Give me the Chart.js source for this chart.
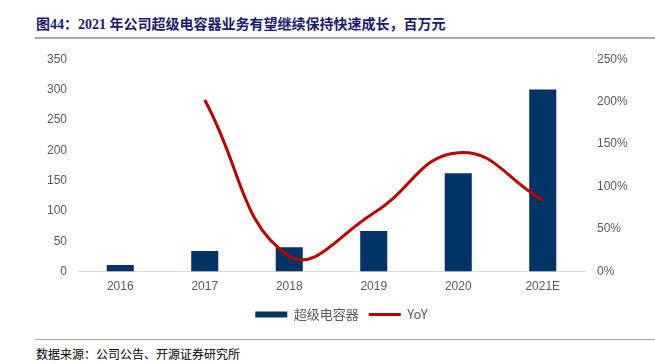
<!DOCTYPE html>
<html>
<head>
<meta charset="utf-8">
<script src="https://cdn.jsdelivr.net/npm/chart.js@4.4.0/dist/chart.umd.min.js"></script>
<style>
  html, body { margin: 0; padding: 0; background: #fff; }
  body { width: 655px; height: 364px; position: relative; overflow: hidden; }
  #title {
    position: absolute; left: 36px; top: 13px;
    font-family: "Liberation Serif", "Noto Sans CJK SC", serif;
    font-weight: bold; font-size: 14px; color: #1a1a70; white-space: nowrap;
  }
  #titleLine { position: absolute; left: 35px; top: 37px; width: 620px; height: 2px; background: #a6a6a6; }
  #wrap { position: absolute; left: 0; top: 40px; width: 655px; height: 295px; }
  #footLine { position: absolute; left: 35px; top: 339px; width: 620px; height: 1px; background: #a6a6a6; }
  #foot {
    position: absolute; left: 36px; top: 345px;
    font-family: "Noto Sans CJK SC", sans-serif; font-size: 12px; color: #000; white-space: nowrap;
  }
</style>
</head>
<body>
<div id="title">图44：2021 年公司超级电容器业务有望继续保持快速成长，百万元</div>
<div id="titleLine"></div>
<div id="wrap"><canvas id="chart"></canvas></div>
<div id="footLine"></div>
<div id="foot">数据来源：公司公告、开源证券研究所</div>
<script>
// data
const years = ["2016", "2017", "2018", "2019", "2020", "2021E"];
const revenue = [11, 34, 40, 67, 162, 300];           // 超级电容器, 百万元
const yoy = [null, 2.02, 0.18, 0.69, 1.40, 0.84];     // YoY
const leftTicks = [0, 50, 100, 150, 200, 250, 300, 350];
const rightTicks = [0, 0.5, 1, 1.5, 2, 2.5];

const navy = "#003366";
const red = "#c00000";
const tickFont = { family: "Liberation Sans, Arial, sans-serif", size: 12 };

// legend sits a bit right of centre and a little higher in the original
const legendShift = {
  id: "legendShift",
  afterLayout(chart) {
    const lg = chart.legend;
    lg.left += 14;
    lg.right += 14;
    lg.top -= 4;
    lg.bottom -= 4;
  }
};

new Chart(document.getElementById("chart").getContext("2d"), {
  type: "bar",
  data: {
    labels: years,
    datasets: [
      {
        label: "超级电容器",
        data: revenue,
        backgroundColor: navy,
        yAxisID: "y",
        barPercentage: 0.32,
        categoryPercentage: 1,
        order: 2
      },
      {
        type: "line",
        label: "YoY",
        data: yoy,
        borderColor: red,
        backgroundColor: red,
        borderWidth: 3,
        pointRadius: 0,
        tension: 0.45,
        yAxisID: "y1",
        order: 1
      }
    ]
  },
  plugins: [legendShift],
  options: {
    responsive: true,
    maintainAspectRatio: false,
    animation: false,
    layout: { padding: { left: 0, right: 0, top: 12, bottom: 0 } },
    plugins: {
      tooltip: { enabled: false },
      legend: {
        position: "bottom",
        labels: {
          boxWidth: 32,
          boxHeight: 6,
          usePointStyle: true,
          pointStyleWidth: 32,
          padding: 10,
          color: "#595959",
          font: { family: "Noto Sans CJK SC, sans-serif", size: 13 },
          generateLabels: () => [
            { text: "超级电容器", fillStyle: navy, strokeStyle: navy, lineWidth: 0, pointStyle: "rect", datasetIndex: 0, fontColor: "#595959" },
            { text: "YoY", fillStyle: red, strokeStyle: red, lineWidth: 3, pointStyle: "line", datasetIndex: 1, fontColor: "#595959" }
          ]
        }
      }
    },
    scales: {
      x: {
        grid: { display: false, drawTicks: false },
        border: { display: true, color: "#d9d9d9", width: 1 },
        ticks: { color: "#595959", font: tickFont, padding: 8 }
      },
      y: {
        position: "left",
        min: 0, max: 350,
        grid: { display: false, drawTicks: false },
        border: { display: false },
        afterBuildTicks: axis => { axis.ticks = leftTicks.map(v => ({ value: v })); },
        afterFit: axis => { axis.width = 78; },
        ticks: { color: "#595959", font: tickFont, padding: 11 }
      },
      y1: {
        position: "right",
        min: 0, max: 2.5,
        grid: { display: false, drawTicks: false },
        border: { display: false },
        afterBuildTicks: axis => { axis.ticks = rightTicks.map(v => ({ value: v })); },
        afterFit: axis => { axis.width = 70; },
        ticks: {
          color: "#595959", font: tickFont, padding: 12,
          callback: v => Math.round(v * 100) + "%"
        }
      }
    }
  }
});
</script>
</body>
</html>
